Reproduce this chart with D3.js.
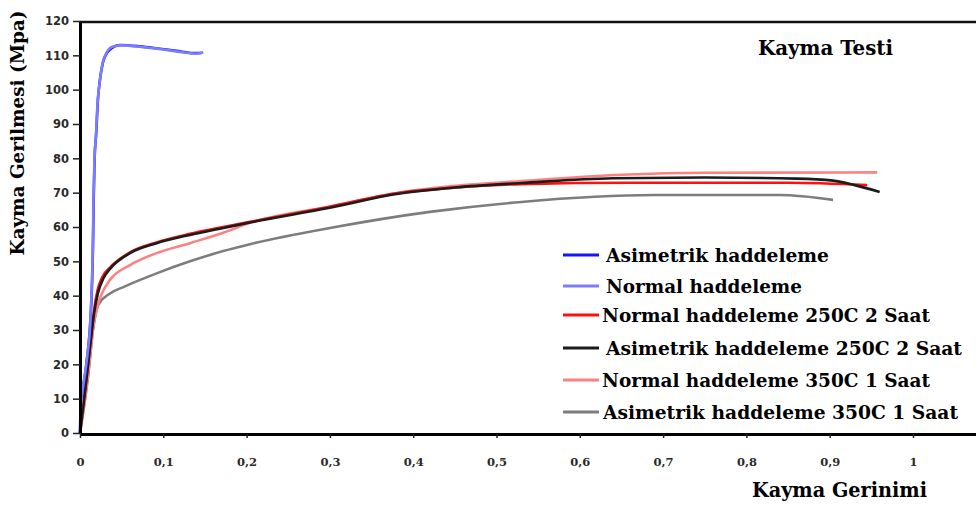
<!DOCTYPE html>
<html>
<head>
<meta charset="utf-8">
<script src="https://cdn.jsdelivr.net/npm/d3@7"></script>
<style>
  body { margin: 0; background: #fff; }
</style>
</head>
<body>
<div id="chart"></div>
<script>
// series names (legend order)
var seriesNames = [
  "Asimetrik haddeleme",
  "Normal haddeleme",
  "Normal haddeleme 250C 2 Saat",
  "Asimetrik haddeleme 250C 2 Saat",
  "Normal haddeleme 350C 1 Saat",
  "Asimetrik haddeleme 350C 1 Saat"
];

// [strain, stress (MPa)]
var asimetrik = [[0,0],[0.001,9.6],[0.0025,11.6],[0.0095,24],[0.012,31],[0.0145,43.7],[0.0155,53],[0.0165,69],
  [0.0175,79.5],[0.0195,87.4],[0.0215,97],[0.024,103],[0.0276,108],[0.0325,110.7],[0.04,112.4],[0.048,113],
  [0.072,112.6],[0.096,111.9],[0.116,111.3],[0.136,110.7],[0.146,110.7]];
var normal = [[0,0],[0.0015,10],[0.003,12.5],[0.009,23],[0.0118,30],[0.014,42],[0.0152,52],[0.0162,68],
  [0.0172,78.5],[0.0192,87],[0.0212,96.5],[0.0238,102.5],[0.0272,107.8],[0.032,110.8],[0.039,112.5],[0.05,112.9],
  [0.075,112.4],[0.1,111.7],[0.12,111],[0.14,110.5],[0.148,110.9]];
var normal250 = [[0,0],[0.006,12],[0.012,25],[0.017,36],[0.021,41.5],[0.027,45.5],[0.036,48.2],[0.06,52.6],
  [0.092,55.5],[0.132,58],[0.172,60],[0.204,61.5],[0.30,65.9],[0.38,69.8],[0.45,71.5],[0.53,72.5],[0.66,72.9],
  [0.85,72.9],[0.945,72.2]];
var asimetrik250 = [[0,0],[0.006,12],[0.012,25],[0.017,35],[0.0216,40.8],[0.028,45],[0.036,47.8],[0.06,52.4],
  [0.092,55.3],[0.132,57.7],[0.172,59.7],[0.204,61.3],[0.30,65.6],[0.38,69.6],[0.45,71.5],[0.53,72.8],[0.64,74.2],
  [0.75,74.4],[0.86,74.1],[0.904,73.5],[0.93,72.2],[0.96,70.2]];
var normal350 = [[0,0],[0.006,10],[0.012,22],[0.016,31],[0.021,37],[0.027,41],[0.036,44.6],[0.06,48.9],
  [0.092,52.4],[0.132,55.3],[0.172,58.3],[0.204,61.2],[0.30,66],[0.38,69.9],[0.45,72],[0.53,73.4],[0.65,75.2],
  [0.75,75.8],[0.957,75.9]];
var asimetrik350 = [[0,0],[0.005,8],[0.010,17],[0.0156,30],[0.022,37.3],[0.035,40.5],[0.052,42.5],[0.092,46.5],
  [0.132,50],[0.172,53],[0.204,55],[0.30,59.7],[0.42,64.4],[0.53,67.3],[0.69,69.3],[0.84,69.3],[0.904,67.9]];

var xTicks = [0,0.1,0.2,0.3,0.4,0.5,0.6,0.7,0.8,0.9,1];
var yTicks = [0,10,20,30,40,50,60,70,80,90,100,110,120];

var allSeries = [asimetrik, normal, normal250, asimetrik250, normal350, asimetrik350];
var colors = ["#1414ff", "#7c7cff", "#ff1010", "#1c1c1c", "#ff8080", "#7d7d7d"];
var drawOrder = [5, 4, 2, 3, 0, 1];

var SERIF = "'DejaVu Serif', 'Liberation Serif', serif";

var W = 976, H = 507;
var svg = d3.select("#chart").append("svg").attr("width", W).attr("height", H);

var x = d3.scaleLinear().domain([0, 896 / 833]).range([80, 976]);
var y = d3.scaleLinear().domain([0, 120]).range([433, 21]);

// top frame line
svg.append("line")
  .attr("x1", x(0)).attr("x2", W)
  .attr("y1", y(120) + 1).attr("y2", y(120) + 1)
  .attr("stroke", "#111").attr("stroke-width", 2.5);

var line = d3.line()
  .x(function(d){ return x(d[0]); })
  .y(function(d){ return y(d[1]); })
  .curve(d3.curveMonotoneX);

drawOrder.forEach(function(i){
  svg.append("path")
    .datum(allSeries[i])
    .attr("d", line)
    .attr("fill", "none")
    .attr("stroke", colors[i])
    .attr("stroke-width", 2.6)
    .attr("stroke-linejoin", "round");
});

var gy = svg.append("g").attr("transform", "translate(" + x(0) + ",0)")
  .call(d3.axisLeft(y).tickValues(yTicks).tickSize(7).tickSizeOuter(0).tickPadding(4));
gy.select(".domain").attr("stroke", "#000").attr("stroke-width", 3);
gy.selectAll(".tick line").attr("stroke", "#222").attr("stroke-width", 1.5);
gy.selectAll(".tick text")
  .attr("style", "font-family: 'DejaVu Sans', sans-serif; font-weight: bold; font-size: 11.5px")
  .attr("fill", "#2a2a2a");

var gx = svg.append("g").attr("transform", "translate(0," + (y(0) + 1) + ")")
  .call(d3.axisBottom(x).tickValues(xTicks).tickSize(4).tickSizeOuter(0).tickPadding(20)
    .tickFormat(function(d){ return d === 0 ? "0" : d === 1 ? "1" : String(d).replace(".", ","); }));
gx.select(".domain").attr("stroke", "#000").attr("stroke-width", 3);
gx.selectAll(".tick line").attr("stroke", "#222").attr("stroke-width", 1.5);
gx.selectAll(".tick text")
  .attr("style", "font-family: " + SERIF + "; font-weight: bold; font-size: 11.5px")
  .attr("fill", "#2a2a2a");

function serifText(sel, size) {
  return sel.attr("style", "font-family: " + SERIF + "; font-weight: bold; font-size: " + size + "px");
}

// titles
serifText(svg.append("text"), 19)
  .attr("transform", "translate(24,133) rotate(-90)")
  .attr("text-anchor", "middle")
  .attr("textLength", 245).attr("lengthAdjust", "spacingAndGlyphs")
  .text("Kayma Gerilmesi (Mpa)");

serifText(svg.append("text"), 20)
  .attr("x", 752).attr("y", 497)
  .attr("textLength", 175).attr("lengthAdjust", "spacingAndGlyphs")
  .text("Kayma Gerinimi");

serifText(svg.append("text"), 20)
  .attr("x", 758).attr("y", 55)
  .attr("textLength", 135).attr("lengthAdjust", "spacingAndGlyphs")
  .text("Kayma Testi");

// legend
var legY = [255, 286, 315, 348, 380, 412];
var legTextX = [606, 606, 602, 606, 602, 603];
var legW = [223, 196, 328, 356, 328, 355];
var leg = svg.append("g");
seriesNames.forEach(function(name, i){
  leg.append("line")
    .attr("x1", 563).attr("x2", 599)
    .attr("y1", legY[i]).attr("y2", legY[i])
    .attr("stroke", colors[i]).attr("stroke-width", 3);
  serifText(leg.append("text"), 18)
    .attr("x", legTextX[i]).attr("y", legY[i] + 7)
    .attr("textLength", legW[i]).attr("lengthAdjust", "spacingAndGlyphs")
    .text(name);
});
</script>
</body>
</html>
